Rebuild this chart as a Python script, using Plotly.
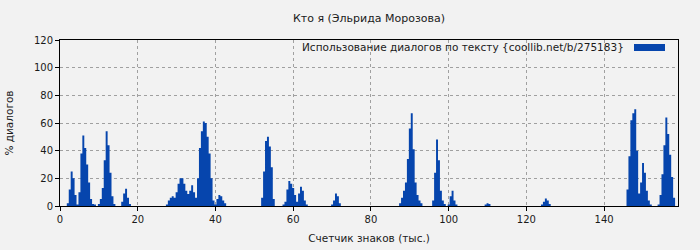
import plotly.graph_objects as go

# Data (thousands of characters vs % dialogue)
chars_k = [
    1.5, 2.0, 2.5, 3.0, 3.5, 4.0, 4.5,
    5.0, 5.5, 6.0, 6.5, 7.0, 7.5, 8.0, 8.5, 9.0, 9.5,
    10.0, 10.5, 11.0, 11.5, 12.0, 12.5, 13.0, 13.5, 14.0, 14.5,
    15.5, 16.0, 16.5, 17.0, 17.5, 18.0, 18.5,
    27.0, 27.5, 28.0, 28.5, 29.0, 29.5, 30.0, 30.5, 31.0, 31.5, 32.0, 32.5, 33.0, 33.5, 34.0,
    34.5, 35.0, 35.5, 36.0, 36.5, 37.0, 37.5, 38.0, 38.5, 39.0, 39.5, 40.0, 40.5, 41.0,
    41.5, 42.0, 42.5, 43.0,
    51.5, 52.0, 52.5, 53.0, 53.5, 54.0, 54.5, 55.0, 55.5,
    57.0, 57.5, 58.0, 58.5, 59.0, 59.5, 60.0, 60.5, 61.0, 61.5, 62.0, 62.5, 63.0, 63.5, 64.0,
    69.5, 70.0, 70.5, 71.0, 71.5, 72.0, 72.5,
    87.0, 87.5, 88.0, 88.5, 89.0, 89.5, 90.0, 90.5, 91.0, 91.5, 92.0, 92.5, 93.0, 93.5,
    95.5, 96.0, 96.5, 97.0, 97.5, 98.0, 98.5, 99.0, 99.5,
    100.0, 100.5, 101.0, 101.5, 102.0, 102.5,
    109.0, 109.5, 110.0, 110.5, 111.0,
    123.5, 124.0, 124.5, 125.0, 125.5, 126.0, 126.5,
    145.5, 146.0, 146.5, 147.0, 147.5, 148.0, 148.5, 149.0, 149.5, 150.0, 150.5, 151.0, 151.5,
    152.0, 152.5,
    153.5, 154.0, 154.5, 155.0, 155.5, 156.0, 156.5, 157.0, 157.5, 158.0, 158.5,
]
dialog_pct = [
    0, 2, 12, 25, 20, 8, 1,
    10, 38, 51, 42, 30, 17, 5, 1.5, 1, 0,
    1.5, 5, 13, 33, 54, 44, 24, 7, 1.5, 0,
    0, 3, 9, 12.5, 6, 1.5, 0,
    0, 1, 4, 6, 7, 6, 10, 16, 20, 20, 16, 11, 8.6, 11, 15,
    10, 6, 20, 42, 54, 61, 60, 50, 38, 20, 4, 1, 5, 8,
    7, 4, 2, 0,
    0, 6, 25, 47, 50, 43, 28, 5, 0,
    0, 1, 3, 12, 18, 16, 13, 8, 3, 9, 14, 11, 4, 1, 0,
    0, 1, 4, 9, 7, 2, 0,
    0, 2, 6, 11, 17, 34, 56, 67, 41, 17, 8, 4, 2, 0,
    0, 4, 24, 48, 33, 11, 4, 1.5, 0,
    1, 7, 11, 4, 1, 0,
    0, 1, 2, 1.5, 0,
    0, 1, 3, 5.5, 4, 1.5, 0,
    0, 12, 36, 62, 67, 70, 40, 9, 17, 31, 24, 11, 4,
    1, 0,
    0, 1, 8, 23, 44, 64, 52, 37, 21, 6, 0,
]

x_ticks = [0, 20, 40, 60, 80, 100, 120, 140]
y_ticks = [0, 20, 40, 60, 80, 100, 120]

title_text = "Кто я (Эльрида Морозова)"
legend_text = "Использование диалогов по тексту {coollib.net/b/275183}"
x_title = "Счетчик знаков (тыс.)"
y_title = "% диалогов"

blue = "#0645ad"
bg = "#f2f2f2"
font_family = "DejaVu Sans"
txt = "#1a1a1a"

fig = go.Figure()
fig.add_trace(go.Scatter(
    x=chars_k, y=dialog_pct, mode="lines",
    line=dict(shape="hvh", width=0, color=blue),
    fill="tozeroy", fillcolor=blue,
    showlegend=False, hoverinfo="x+y",
))

axis_common = dict(
    automargin=False,
    showline=True, linecolor="black", linewidth=1, mirror=True,
    ticks="outside", ticklen=4, tickcolor="black",
    showgrid=True, gridcolor="#a0a0a0", griddash="dot", gridwidth=1,
    zeroline=False,
    tickfont=dict(family=font_family, size=10, color=txt),
)

fig.update_layout(
    width=700, height=250,
    margin=dict(l=60, r=22, t=40, b=44, autoexpand=False),
    paper_bgcolor=bg, plot_bgcolor=bg,
    font=dict(family=font_family, size=10, color=txt),
    title=dict(text=title_text, x=(60 + 678) / 2 / 700, xanchor="center",
               y=1 - 18 / 250, yanchor="middle",
               font=dict(family=font_family, size=11, color=txt)),
    xaxis=dict(range=[0, 159], tickvals=x_ticks,
               title=dict(text=x_title, standoff=10,
                          font=dict(family=font_family, size=10.5)),
               **axis_common),
    yaxis=dict(range=[0, 120], tickvals=y_ticks,
               title=dict(text=y_title, standoff=18,
                          font=dict(family=font_family, size=10.5)),
               **axis_common),
    annotations=[dict(
        text=legend_text, xref="paper", yref="paper",
        x=(626 - 60) / 618, xanchor="right",
        y=(206 - 47) / 166, yanchor="middle",
        showarrow=False,
        font=dict(family=font_family, size=10.5, color=txt),
    )],
    shapes=[dict(
        type="rect", xref="paper", yref="paper",
        x0=(634 - 60) / 618, x1=(665 - 60) / 618,
        y0=(206 - 51) / 166, y1=(206 - 44) / 166,
        fillcolor=blue, line=dict(width=0),
    )],
)

fig.write_html("out.html")
